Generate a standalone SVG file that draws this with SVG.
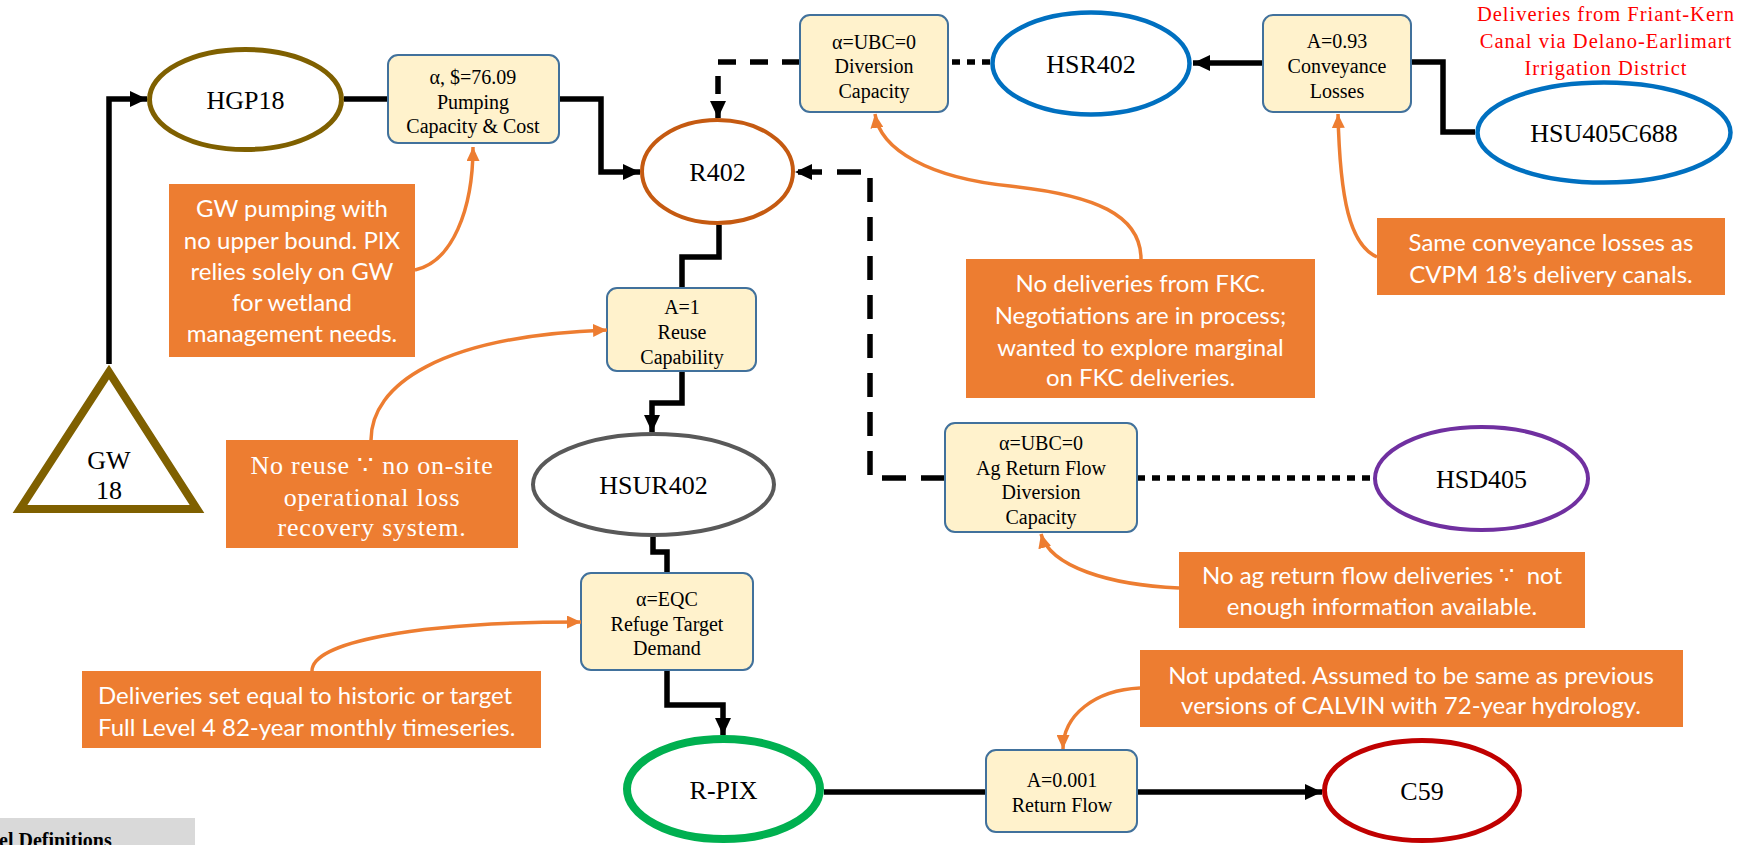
<svg xmlns="http://www.w3.org/2000/svg" width="1742" height="845" viewBox="0 0 1742 845">
  <style>
    .node-lbl { font-family: "Liberation Serif", "Times New Roman", serif; font-size: 26px; fill: #000; text-anchor: middle; }
    .box { fill: #FFF2CC; stroke: #41719C; stroke-width: 2; }
    .box-lbl { font-family: "Liberation Serif", "Times New Roman", serif; font-size: 20px; fill: #000; text-anchor: middle; }
    .note { fill: #ED7D31; }
    .note-lbl { font-family: Lato, "Noto Sans", sans-serif; font-size: 24px; fill: #FFF; text-anchor: middle; white-space: pre; }
    .note-serif { font-family: "Liberation Serif", "Times New Roman", serif; font-size: 26px; letter-spacing: 0.8px; fill: #FFF; text-anchor: middle; }
    .flow { fill: none; stroke: #000; stroke-width: 5.5; stroke-linejoin: miter; }
    .dash-long { stroke-dasharray: 24 15; }
    .dash-mid { stroke-dasharray: 18 14; }
    .dot { stroke-dasharray: 8 7; }
    .pointer { fill: none; stroke: #ED7D31; stroke-width: 3.5; }
    .red-lbl { font-family: "Liberation Serif", "Times New Roman", serif; font-size: 20.5px; letter-spacing: 1px; fill: #FF0000; text-anchor: middle; }
  </style>
  <defs>
    <marker id="arrow" markerUnits="userSpaceOnUse" markerWidth="17" markerHeight="16" refX="17" refY="8" orient="auto">
      <path d="M0,0 L17,8 L0,16 z" fill="#000"/>
    </marker>
    <marker id="arrow-o" markerUnits="userSpaceOnUse" markerWidth="14" markerHeight="13" refX="14" refY="6.5" orient="auto">
      <path d="M0,0 L14,6.5 L0,13 z" fill="#ED7D31"/>
    </marker>
  </defs>

  <rect width="1742" height="845" fill="#FFF"/>

  <!-- connectors -->
  <g id="connectors">
    <path class="flow" d="M109,364 V99 H147" marker-end="url(#arrow)"/>
    <path class="flow" d="M344,99 H388"/>
    <path class="flow" d="M559,99 H601 V172 H640" marker-end="url(#arrow)"/>
    <path class="flow" d="M719,225 V257 H682 V288"/>
    <path class="flow" d="M682,371 V403 H652 V432" marker-end="url(#arrow)"/>
    <path class="flow" d="M653,537 V552 H667 V573"/>
    <path class="flow" d="M667,670 V705 H723 V735" marker-end="url(#arrow)"/>
    <path class="flow" d="M824,792 H986"/>
    <path class="flow" d="M1137,792 H1322" marker-end="url(#arrow)"/>
    <path class="flow" d="M1263,63 H1193" marker-end="url(#arrow)"/>
    <path class="flow" d="M1411,62 H1443 V132 H1475"/>
    <path class="flow dash-mid" d="M800,62 H718 V118" marker-end="url(#arrow)"/>
    <path class="flow dot" d="M990,62 H948"/>
    <path class="flow dash-long" d="M945,478 H870 V172 H795" marker-end="url(#arrow)"/>
    <path class="flow dot" d="M1137,478 H1373"/>
  </g>

  <!-- nodes -->
  <g id="GW18">
    <polygon points="109,372 20,509 197,509" fill="#FFF" stroke="#7F6000" stroke-width="8"/>
    <text class="node-lbl" x="109" y="469">GW</text>
    <text class="node-lbl" x="109" y="499">18</text>
  </g>
  <g id="HGP18">
    <ellipse cx="245.5" cy="99.5" rx="96" ry="50" fill="#FFF" stroke="#7F6000" stroke-width="5"/>
    <text class="node-lbl" x="245.5" y="108.5">HGP18</text>
  </g>
  <g id="R402">
    <ellipse cx="717.5" cy="171.5" rx="75.5" ry="51.5" fill="#FFF" stroke="#C55A11" stroke-width="4"/>
    <text class="node-lbl" x="717.5" y="180.5">R402</text>
  </g>
  <g id="HSR402">
    <ellipse cx="1091" cy="63.5" rx="98.5" ry="51" fill="#FFF" stroke="#0070C0" stroke-width="4.5"/>
    <text class="node-lbl" x="1091" y="72.5">HSR402</text>
  </g>
  <g id="HSU405C688">
    <ellipse cx="1604" cy="132.5" rx="126.5" ry="50" fill="#FFF" stroke="#0070C0" stroke-width="4.5"/>
    <text class="node-lbl" x="1604" y="141.5">HSU405C688</text>
  </g>
  <g id="HSUR402">
    <ellipse cx="653.5" cy="484.5" rx="120.5" ry="50.5" fill="#FFF" stroke="#595959" stroke-width="4"/>
    <text class="node-lbl" x="653.5" y="493.5">HSUR402</text>
  </g>
  <g id="HSD405">
    <ellipse cx="1481.5" cy="478.5" rx="106.5" ry="51.5" fill="#FFF" stroke="#7030A0" stroke-width="4"/>
    <text class="node-lbl" x="1481.5" y="487.5">HSD405</text>
  </g>
  <g id="R-PIX">
    <ellipse cx="723.5" cy="789" rx="96.5" ry="50" fill="#FFF" stroke="#00B050" stroke-width="8"/>
    <text class="node-lbl" x="723.5" y="799">R-PIX</text>
  </g>
  <g id="C59">
    <ellipse cx="1422" cy="790.5" rx="97.5" ry="50" fill="#FFF" stroke="#C00000" stroke-width="5"/>
    <text class="node-lbl" x="1422" y="799.5">C59</text>
  </g>

  <!-- link parameter boxes -->
  <g id="pumping">
    <rect class="box" x="388" y="55" width="171" height="88" rx="10"/>
    <text class="box-lbl" x="473" y="84">α, $=76.09</text>
    <text class="box-lbl" x="473" y="109">Pumping</text>
    <text class="box-lbl" x="473" y="133">Capacity &amp; Cost</text>
  </g>
  <g id="diversion">
    <rect class="box" x="800" y="15" width="148" height="97" rx="10"/>
    <text class="box-lbl" x="874" y="49">α=UBC=0</text>
    <text class="box-lbl" x="874" y="73">Diversion</text>
    <text class="box-lbl" x="874" y="98">Capacity</text>
  </g>
  <g id="conveyance">
    <rect class="box" x="1263" y="15" width="148" height="97" rx="10"/>
    <text class="box-lbl" x="1337" y="48">A=0.93</text>
    <text class="box-lbl" x="1337" y="73">Conveyance</text>
    <text class="box-lbl" x="1337" y="98">Losses</text>
  </g>
  <g id="reuse">
    <rect class="box" x="607" y="288" width="149" height="83" rx="10"/>
    <text class="box-lbl" x="682" y="314">A=1</text>
    <text class="box-lbl" x="682" y="339">Reuse</text>
    <text class="box-lbl" x="682" y="364">Capability</text>
  </g>
  <g id="ag-return">
    <rect class="box" x="945" y="423" width="192" height="109" rx="10"/>
    <text class="box-lbl" x="1041" y="450">α=UBC=0</text>
    <text class="box-lbl" x="1041" y="475">Ag Return Flow</text>
    <text class="box-lbl" x="1041" y="499">Diversion</text>
    <text class="box-lbl" x="1041" y="524">Capacity</text>
  </g>
  <g id="refuge">
    <rect class="box" x="581" y="573" width="172" height="97" rx="10"/>
    <text class="box-lbl" x="667" y="606">α=EQC</text>
    <text class="box-lbl" x="667" y="631">Refuge Target</text>
    <text class="box-lbl" x="667" y="655">Demand</text>
  </g>
  <g id="return-flow">
    <rect class="box" x="986" y="750" width="151" height="82" rx="10"/>
    <text class="box-lbl" x="1062" y="787">A=0.001</text>
    <text class="box-lbl" x="1062" y="812">Return Flow</text>
  </g>

  <!-- annotations -->
  <g id="note-pumping">
    <rect class="note" x="169" y="184" width="246" height="173"/>
    <text class="note-lbl" x="292" y="217">GW pumping with</text>
    <text class="note-lbl" x="292" y="249">no upper bound. PIX</text>
    <text class="note-lbl" x="292" y="280">relies solely on GW</text>
    <text class="note-lbl" x="292" y="311">for wetland</text>
    <text class="note-lbl" x="292" y="342">management needs.</text>
    <path class="pointer" d="M415,270 C452,262 473,210 473,147" marker-end="url(#arrow-o)"/>
  </g>
  <g id="note-reuse">
    <rect class="note" x="226" y="440" width="292" height="108"/>
    <text class="note-serif" x="372" y="474">No reuse ∵ no on-site</text>
    <text class="note-serif" x="372" y="506">operational loss</text>
    <text class="note-serif" x="372" y="536">recovery system.</text>
    <path class="pointer" d="M371,440 C371,385 440,336 607,330" marker-end="url(#arrow-o)"/>
  </g>
  <g id="note-target">
    <rect class="note" x="82" y="671" width="459" height="77"/>
    <text class="note-lbl" x="98" y="704" style="text-anchor:start">Deliveries set equal to historic or target</text>
    <text class="note-lbl" x="98" y="736" style="text-anchor:start">Full Level 4 82-year monthly timeseries.</text>
    <path class="pointer" d="M312,671 C312,643 410,622 581,622" marker-end="url(#arrow-o)"/>
  </g>
  <g id="note-fkc">
    <rect class="note" x="966" y="259" width="349" height="139"/>
    <text class="note-lbl" x="1140.5" y="292">No deliveries from FKC.</text>
    <text class="note-lbl" x="1140.5" y="324">Negotiations are in process;</text>
    <text class="note-lbl" x="1140.5" y="356">wanted to explore marginal</text>
    <text class="note-lbl" x="1140.5" y="386">on FKC deliveries.</text>
    <path class="pointer" d="M1141,259 C1141,215 1095,195 1010,186 C930,178 880,150 875,114" marker-end="url(#arrow-o)"/>
  </g>
  <g id="note-conveyance">
    <rect class="note" x="1377" y="218" width="348" height="77"/>
    <text class="note-lbl" x="1551" y="251">Same conveyance losses as</text>
    <text class="note-lbl" x="1551" y="283">CVPM 18’s delivery canals.</text>
    <path class="pointer" d="M1377,257 C1350,245 1340,200 1338,114" marker-end="url(#arrow-o)"/>
  </g>
  <g id="note-ag">
    <rect class="note" x="1179" y="552" width="406" height="76"/>
    <text class="note-lbl" x="1382" y="584">No ag return flow deliveries ∵  not</text>
    <text class="note-lbl" x="1382" y="615">enough information available.</text>
    <path class="pointer" d="M1179,588 C1110,585 1050,567 1041,534" marker-end="url(#arrow-o)"/>
  </g>
  <g id="note-return">
    <rect class="note" x="1140" y="650" width="543" height="77"/>
    <text class="note-lbl" x="1411" y="684">Not updated. Assumed to be same as previous</text>
    <text class="note-lbl" x="1411" y="714">versions of CALVIN with 72-year hydrology.</text>
    <path class="pointer" d="M1140,688 C1095,690 1063,715 1063,749" marker-end="url(#arrow-o)"/>
  </g>

  <g id="source-note">
    <text class="red-lbl" x="1606" y="21">Deliveries from Friant-Kern</text>
    <text class="red-lbl" x="1606" y="48">Canal via Delano-Earlimart</text>
    <text class="red-lbl" x="1606" y="75">Irrigation District</text>
  </g>

  <g id="legend-tab">
    <rect x="0" y="818" width="195" height="30" fill="#D9D9D9"/>
    <text x="-1" y="847" font-family="Liberation Serif, Times New Roman, serif" font-size="20" font-weight="bold" fill="#000">el Definitions</text>
  </g>
</svg>
